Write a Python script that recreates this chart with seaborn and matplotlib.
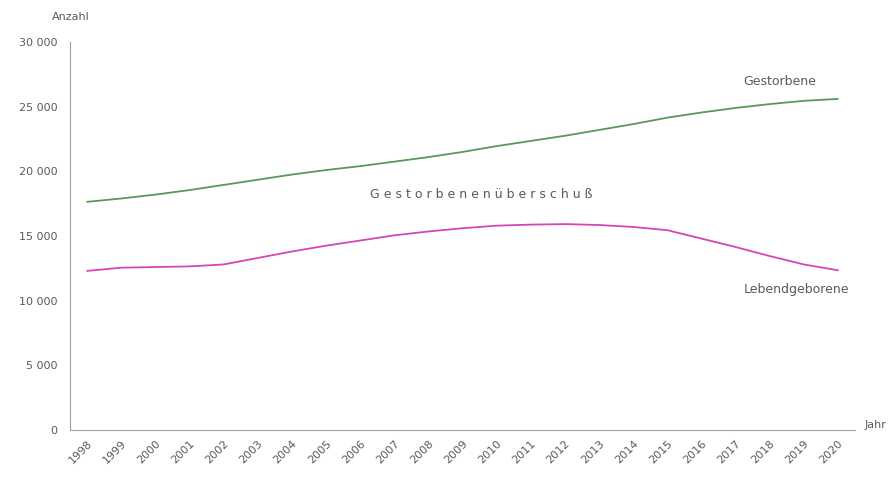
import numpy as np
import pandas as pd
import matplotlib
matplotlib.use("Agg")
import matplotlib.pyplot as plt
import seaborn as sns

years = list(range(1998, 2021))
gestorbene = [17640, 17900, 18200, 18550, 18950, 19350, 19750, 20100, 20400,
              20750, 21100, 21500, 21950, 22350, 22750, 23200, 23650, 24150,
              24550, 24900, 25200, 25450, 25600]
lebendgeborene = [12300, 12550, 12600, 12650, 12800, 13300, 13800, 14250, 14650,
                  15050, 15350, 15600, 15800, 15880, 15920, 15850, 15700, 15450,
                  14800, 14150, 13450, 12800, 12350]
y_ticks = [0, 5000, 10000, 15000, 20000, 25000, 30000]

df = pd.DataFrame({
    "Jahr": years * 2,
    "Anzahl": gestorbene + lebendgeborene,
    "Reihe": ["Gestorbene"] * len(years) + ["Lebendgeborene"] * len(years),
})

sns.set_style("white")
plt.rcParams["font.family"] = ["DejaVu Sans"]
grey = "#5a5a5a"
fs = 8

fig = plt.figure(figsize=(8.93, 4.8), dpi=100)
ax = fig.add_axes([70 / 893, 50 / 480, 785 / 893, 388 / 480])

sns.lineplot(data=df, x="Jahr", y="Anzahl", hue="Reihe", ax=ax,
             palette={"Gestorbene": "#589858", "Lebendgeborene": "#d445b8"},
             linewidth=1.3, legend=False)

ax.set_xlim(1997.5, 2020.5)
ax.set_ylim(0, 30000)
ax.set_yticks(y_ticks)
ax.set_yticklabels([f"{v:,}".replace(",", " ") for v in y_ticks])
ax.set_xticks(years)
ax.set_xticklabels([str(y) for y in years], rotation=45, ha="right",
                   rotation_mode="anchor")
ax.tick_params(axis="both", labelsize=fs, labelcolor=grey, color="#aaaaaa",
               length=3, width=0.6, direction="out", pad=6)
ax.tick_params(axis="x", length=2, pad=4)
for side in ["top", "right"]:
    ax.spines[side].set_visible(False)
for side in ["left", "bottom"]:
    ax.spines[side].set_color("#a0a0a0")
    ax.spines[side].set_linewidth(0.8)
ax.set_xlabel("")
ax.set_ylabel("")

fig.text(71 / 893, 1 - 17 / 480, "Anzahl", fontsize=fs, color=grey,
         ha="center", va="center")
fig.text(875 / 893, 1 - 425 / 480, "Jahr", fontsize=fs, color=grey,
         ha="center", va="center")

ax.text(2018.3, 26950, "Gestorbene", fontsize=fs + 1, color=grey,
        ha="center", va="center")
ax.text(2018.8, 10900, "Lebendgeborene", fontsize=fs + 1, color=grey,
        ha="center", va="center")
ax.text(2009.55, 18200, " ".join("Gestorbenenüberschuß"), fontsize=fs + 1,
        color=grey, ha="center", va="center")

fig.savefig("out.png", dpi=100)
